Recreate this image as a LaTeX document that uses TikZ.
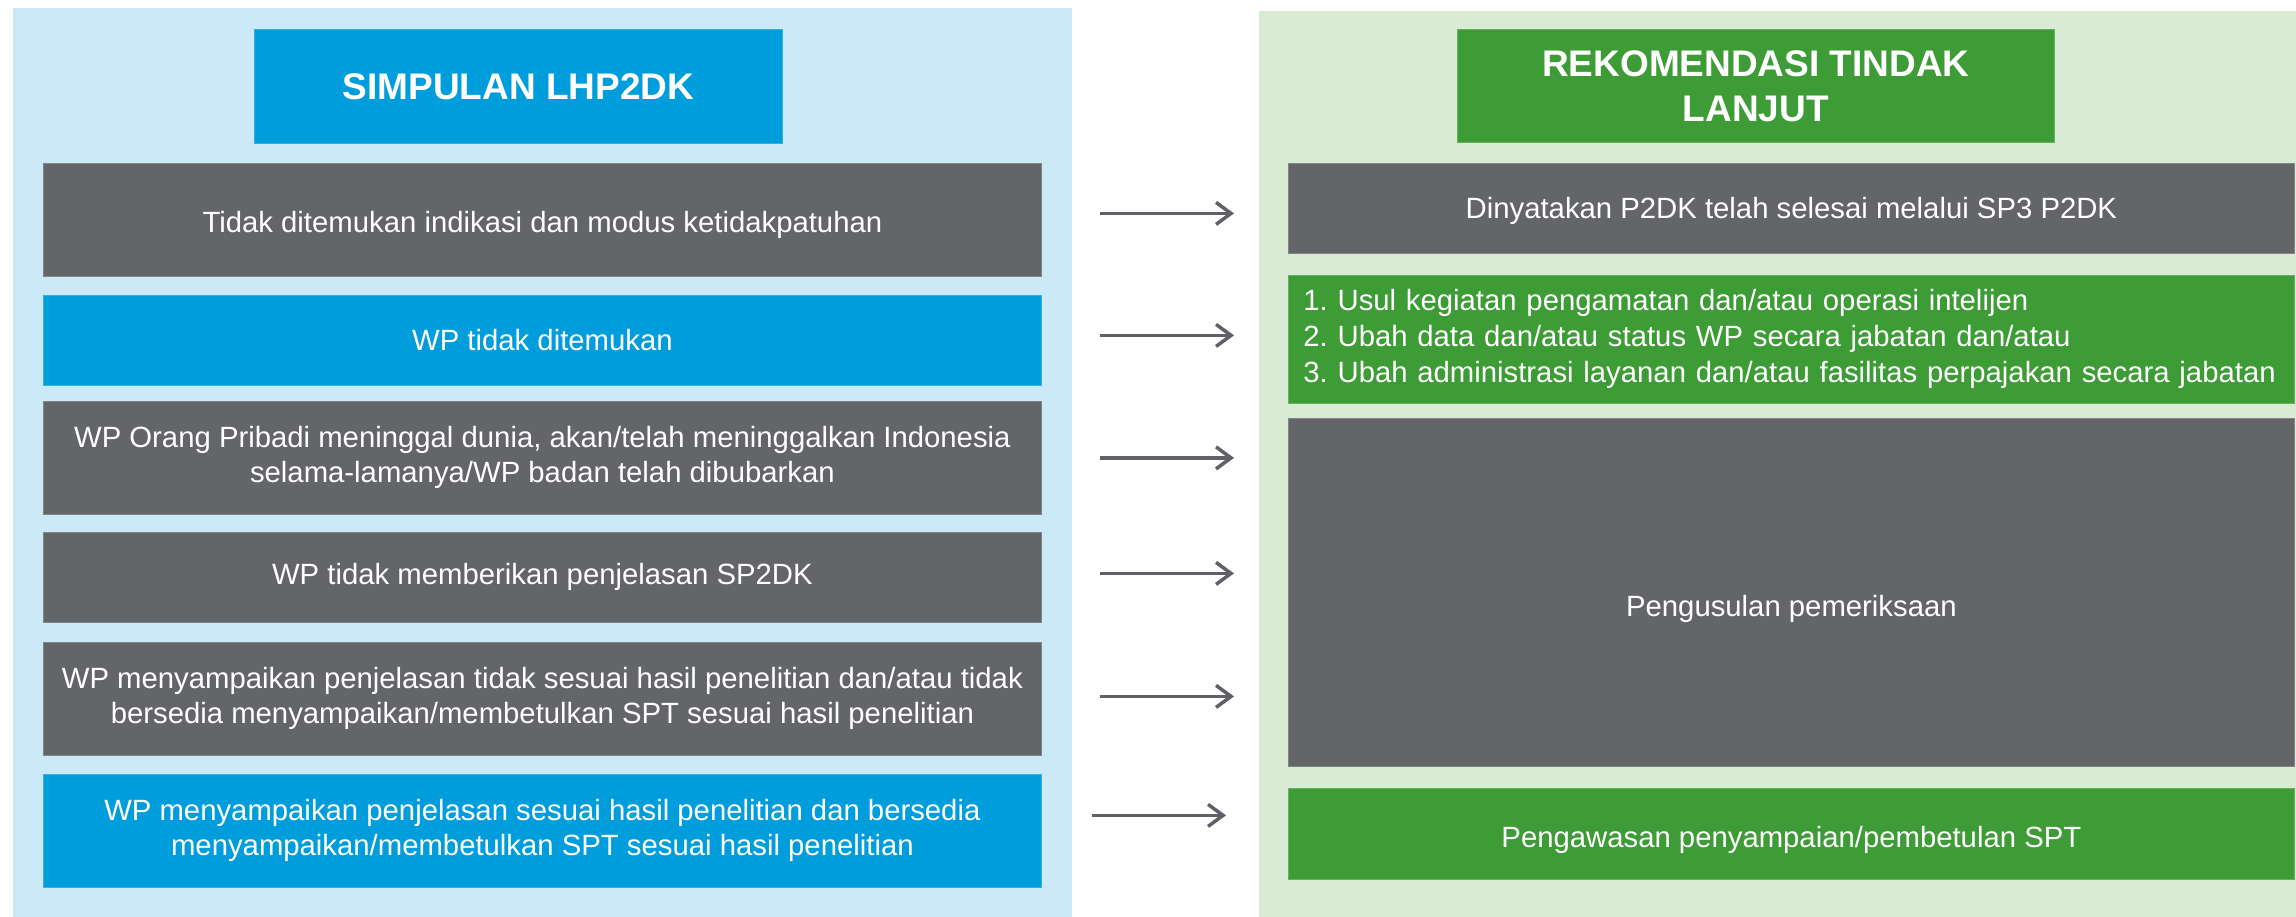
\documentclass[tikz,border=0pt]{standalone}
\usepackage{fontspec}
\setmainfont{Liberation Sans}
\usetikzlibrary{arrows.meta}
\frenchspacing
\hyphenpenalty=10000

\definecolor{panelblue}{HTML}{CCE9F7}
\definecolor{panelgreen}{HTML}{D9EBD5}
\definecolor{boxblue}{HTML}{009DDC}
\definecolor{boxgray}{HTML}{636569}
\definecolor{boxgreen}{HTML}{3D9C35}
\definecolor{arrowgray}{HTML}{5F6166}

\begin{document}
\begin{tikzpicture}[x=1pt, y=-1pt,
  panel/.style={anchor=north west, inner sep=0pt, minimum width=#1},
  cell/.style={anchor=north west, inner sep=0pt, text=white, align=center,
    font=\fontsize{29.3}{35}\selectfont},
  headcell/.style={cell, font=\fontsize{37}{45}\selectfont\bfseries},
  % single-line text sitting a little below the middle of its box
  lowered/.style={text height=#1, text depth=6pt},
  gray cell/.style={fill=boxgray, draw=boxgray!80!white, line width=0.8pt},
  blue cell/.style={fill=boxblue, draw=boxblue!80!white, line width=0.8pt},
  green cell/.style={fill=boxgreen, draw=boxgreen!80!white, line width=0.8pt},
  flow/.style={draw=arrowgray, line width=3.5pt,
    -{Straight Barb[length=15pt, width=22pt]}}]

\useasboundingbox (0,0) rectangle (2296,917);

% background panels
\node[panel=1059pt, minimum height=909pt, fill=panelblue] (leftpanel) at (13,8) {};
\node[panel=1037pt, minimum height=906pt, fill=panelgreen] (rightpanel) at (1259,11) {};

% left column: conclusions
\node[headcell, blue cell, minimum width=528pt, minimum height=114pt] (LT) at (254,29)
  {SIMPULAN LHP2DK};
\node[cell, gray cell, lowered=31pt, minimum width=998pt, minimum height=113pt] (L1) at (43,163)
  {Tidak ditemukan indikasi dan modus ketidakpatuhan};
\node[cell, blue cell, minimum width=998pt, minimum height=90pt] (L2) at (43,295)
  {WP tidak ditemukan};
\node[cell, gray cell, minimum width=998pt, minimum height=113pt] (L3) at (43,401)
  {WP Orang Pribadi meninggal dunia, akan/telah meninggalkan Indonesia\\
   selama-lamanya/WP badan telah dibubarkan};
\node[cell, gray cell, minimum width=998pt, minimum height=90pt] (L4) at (43,532)
  {WP tidak memberikan penjelasan SP2DK};
\node[cell, gray cell, minimum width=998pt, minimum height=113pt] (L5) at (43,642)
  {WP menyampaikan penjelasan tidak sesuai hasil penelitian dan/atau tidak\\
   bersedia menyampaikan/membetulkan SPT sesuai hasil penelitian};
\node[cell, blue cell, minimum width=998pt, minimum height=113pt] (L6) at (43,774)
  {WP menyampaikan penjelasan sesuai hasil penelitian dan bersedia\\
   menyampaikan/membetulkan SPT sesuai hasil penelitian};

% right column: follow-up recommendations
\node[headcell, green cell, minimum width=597pt, minimum height=113pt] (RT) at (1457,29)
  {REKOMENDASI TINDAK\\LANJUT};
\node[cell, gray cell, lowered=27pt, minimum width=1006pt, minimum height=90pt] (R1) at (1288,163)
  {Dinyatakan P2DK telah selesai melalui SP3 P2DK};
\node[cell, green cell, align=left, inner xsep=15pt, text width=976pt,
  font=\fontsize{29.3}{36}\selectfont, minimum height=128pt] (R2) at (1288,275)
  {1. Usul kegiatan pengamatan dan/atau operasi intelijen\\
   2. Ubah data dan/atau status WP secara jabatan dan/atau\\
   3. Ubah administrasi layanan dan/atau fasilitas perpajakan secara jabatan};
\node[cell, gray cell, lowered=55pt, minimum width=1006pt, minimum height=348pt] (R3) at (1288,418)
  {Pengusulan pemeriksaan};
\node[cell, green cell, lowered=33pt, minimum width=1006pt, minimum height=91pt] (R4) at (1288,788)
  {Pengawasan penyampaian/pembetulan SPT};

% arrows from each conclusion to its recommendation
\draw[flow, shorten <=58pt, shorten >=54pt]
  ([yshift=6.5pt]L1.east) -- ([yshift=6.5pt]L1.east -| R1.west);
\draw[flow, shorten <=58pt, shorten >=54pt]
  ([yshift=5pt]L2.east) -- ([yshift=5pt]L2.east -| R2.west);
\draw[flow, shorten <=58pt, shorten >=54pt]
  (L3.east) -- (L3.east -| R3.west);
\draw[flow, shorten <=58pt, shorten >=54pt]
  ([yshift=4pt]L4.east) -- ([yshift=4pt]L4.east -| R3.west);
\draw[flow, shorten <=58pt, shorten >=54pt]
  ([yshift=2.5pt]L5.east) -- ([yshift=2.5pt]L5.east -| R3.west);
\draw[flow, shorten <=50pt, shorten >=62pt]
  ([yshift=15.5pt]L6.east) -- ([yshift=15.5pt]L6.east -| R4.west);

\end{tikzpicture}
\end{document}
